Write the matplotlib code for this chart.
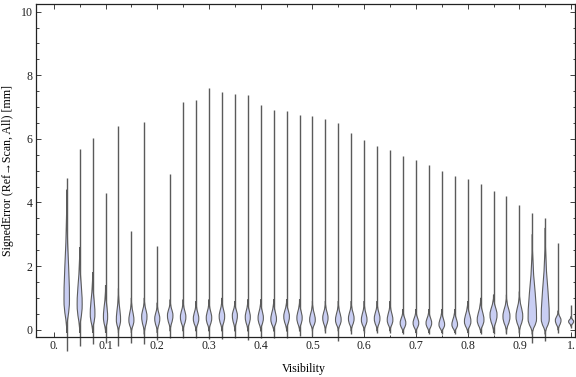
import matplotlib
matplotlib.use("Agg")
import matplotlib.pyplot as plt
from matplotlib.path import Path
from matplotlib.patches import PathPatch
from matplotlib.ticker import FixedLocator, FixedFormatter, MultipleLocator

plt.rcParams['font.family'] = ['Liberation Serif', 'DejaVu Serif']

# visibility bins (centre of each violin)
visibility = [0.025, 0.05, 0.075, 0.1, 0.125, 0.15, 0.175, 0.2, 0.225, 0.25,
              0.275, 0.3, 0.325, 0.35, 0.375, 0.4, 0.425, 0.45, 0.475, 0.5,
              0.525, 0.55, 0.575, 0.6, 0.625, 0.65, 0.675, 0.7, 0.725, 0.75,
              0.775, 0.8, 0.825, 0.85, 0.875, 0.9, 0.925, 0.95, 0.975, 1.0]

# signed error range per bin [mm]
err_min = [-0.68, -0.52, -0.45, -0.42, -0.52, -0.42, -0.45, -0.31, -0.26, -0.26,
           -0.26, -0.29, -0.29, -0.26, -0.31, -0.26, -0.26, -0.26, -0.20, -0.20,
           -0.10, -0.37, -0.15, -0.10, -0.10, -0.10, -0.15, -0.15, -0.15, -0.15,
           -0.15, -0.15, -0.15, -0.15, -0.15, -0.15, -0.42, -0.37, -0.10, 0.06]
err_max = [4.76, 5.69, 6.02, 4.29, 6.39, 3.10, 6.52, 2.62, 4.89, 7.17,
           7.23, 7.61, 7.46, 7.42, 7.39, 7.08, 6.91, 6.88, 6.76, 6.71,
           6.61, 6.51, 6.17, 5.96, 5.78, 5.66, 5.46, 5.32, 5.19, 5.00,
           4.82, 4.73, 4.57, 4.35, 4.19, 3.92, 3.67, 3.52, 2.71, 0.78]

# density peak location and relative peak density
err_mode = [0.95, 0.80, 0.50, 0.40, 0.31, 0.30, 0.42, 0.35, 0.45, 0.40,
            0.35, 0.37, 0.42, 0.45, 0.40, 0.37, 0.33, 0.42, 0.37, 0.31,
            0.37, 0.31, 0.35, 0.31, 0.35, 0.31, 0.21, 0.21, 0.21, 0.16,
            0.16, 0.26, 0.31, 0.47, 0.42, 0.42, 0.35, 0.35, 0.30, 0.26]
peak_density = [1.00, 0.92, 0.85, 0.77, 0.77, 0.92, 0.97, 0.92, 1.00, 1.00,
                1.00, 1.00, 1.00, 0.92, 0.92, 0.97, 1.03, 1.03, 0.97, 1.03,
                0.97, 1.03, 1.03, 1.03, 1.03, 1.03, 1.03, 1.03, 1.03, 1.03,
                1.03, 1.18, 1.23, 1.28, 1.28, 1.23, 1.54, 1.46, 1.03, 0.92]

# extent of the bulk of the distribution
body_low = [-0.10, -0.10, -0.10, -0.10, -0.10, -0.10, -0.15, -0.10, -0.05, -0.05,
            -0.05, -0.05, -0.05, -0.05, -0.05, -0.05, -0.05, -0.05, -0.05, -0.05,
            -0.05, -0.05, -0.05, -0.05, -0.05, -0.05, -0.10, -0.10, -0.10, -0.10,
            -0.10, -0.10, -0.10, -0.10, -0.10, -0.10, -0.15, -0.15, -0.02, 0.10]
body_high = [4.40, 2.60, 1.80, 1.40, 1.30, 1.00, 1.00, 0.85, 0.95, 0.95,
             0.90, 0.95, 1.00, 0.90, 0.95, 0.95, 0.95, 0.95, 0.95, 0.90,
             0.90, 0.90, 0.90, 0.90, 0.90, 0.90, 0.65, 0.65, 0.65, 0.65,
             0.65, 0.90, 1.00, 1.10, 1.10, 1.20, 3.00, 3.20, 0.60, 0.42]

fill_color = '#c9cef3'
edge_color = '#5c5c5c'
tail_color = '#5a5a5a'
half_w = 0.0053

fig = plt.figure(figsize=(5.76, 3.77), dpi=100)
ax = fig.add_axes([36 / 576, 1 - 337 / 377, (575 - 36) / 576, (337 - 4) / 377])

for i in range(len(visibility)):
    c = visibility[i]
    lo, m, hi = body_low[i], err_mode[i], body_high[i]
    h = half_w * peak_density[i]
    # thin tails
    ax.plot([c, c], [err_min[i], err_max[i]], color=tail_color, lw=1.0,
            solid_capstyle='butt', zorder=2, clip_on=False)
    # body outline: smooth lower half, faster taper in the upper half
    a = 0.45 * (m - lo)
    b1 = 0.30 * (hi - m)
    b2 = 0.55 * (hi - m)
    verts = [(c, lo),
             (c, lo + a), (c + h, m - a), (c + h, m),
             (c + h, m + b1), (c, hi - b2), (c, hi),
             (c, hi - b2), (c - h, m + b1), (c - h, m),
             (c - h, m - a), (c, lo + a), (c, lo)]
    codes = [Path.MOVETO] + [Path.CURVE4] * 12
    patch = PathPatch(Path(verts, codes), facecolor=fill_color,
                      edgecolor=edge_color, lw=0.8, zorder=3, clip_on=False)
    ax.add_patch(patch)

ax.set_xlim(-0.0344, 1.0075)
ax.set_ylim(-0.23, 10.24)

xt = [0.0, 0.1, 0.2, 0.3, 0.4, 0.5, 0.6, 0.7, 0.8, 0.9, 1.0]
xt_labels = ['0.', '0.1', '0.2', '0.3', '0.4', '0.5', '0.6', '0.7', '0.8', '0.9', '1.']
ax.xaxis.set_major_locator(FixedLocator(xt))
ax.xaxis.set_major_formatter(FixedFormatter(xt_labels))
ax.xaxis.set_minor_locator(MultipleLocator(0.05))
ax.yaxis.set_major_locator(MultipleLocator(2))
ax.yaxis.set_minor_locator(MultipleLocator(0.5))

ax.tick_params(which='both', direction='in', top=True, right=True,
               colors='#222222', labelsize=8.6, width=0.6)
ax.tick_params(which='major', length=3.3, pad=2.5)
ax.tick_params(which='minor', length=1.8)
for s in ax.spines.values():
    s.set_linewidth(0.9)
    s.set_color('#222222')

ax.set_xlabel('Visibility', fontsize=8.6)
ax.set_ylabel('SignedError (Ref\u2192Scan, All) [mm]', fontsize=8.6)
ax.xaxis.set_label_coords(0.497, -0.078)
ax.yaxis.set_label_coords(-0.041, 0.5)

fig.savefig('out.png', dpi=100)
